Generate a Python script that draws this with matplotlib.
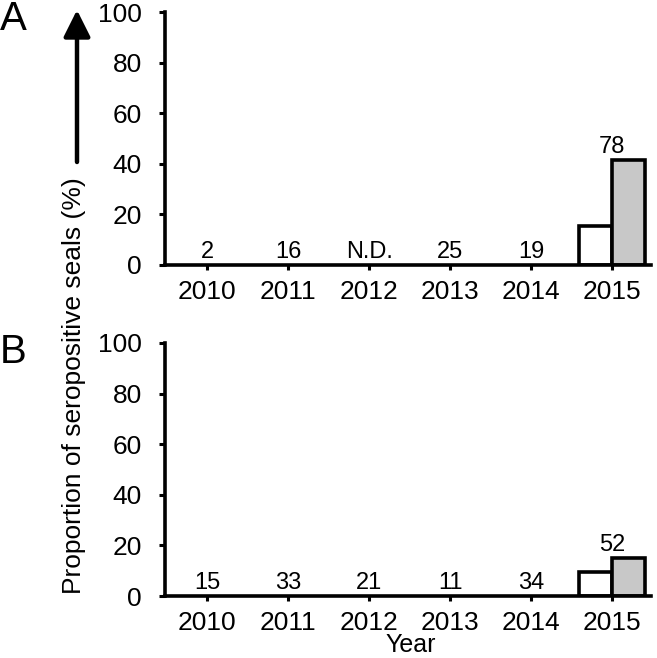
import numpy as np
import matplotlib
matplotlib.use("Agg")
import matplotlib.pyplot as plt

plt.rcParams["font.family"] = ["Liberation Sans", "DejaVu Sans"]

years = ["2010", "2011", "2012", "2013", "2014", "2015"]

# panel A
counts_a = ["2", "16", "N.D.", "25", "19", "78"]
white_a = [np.nan, np.nan, np.nan, np.nan, np.nan, 15.4]
grey_a = [np.nan, np.nan, np.nan, np.nan, np.nan, 41.5]

# panel B
counts_b = ["15", "33", "21", "11", "34", "52"]
white_b = [np.nan, np.nan, np.nan, np.nan, np.nan, 9.6]
grey_b = [np.nan, np.nan, np.nan, np.nan, np.nan, 15.0]

W, H = 657, 658
fig = plt.figure(figsize=(W / 100, H / 100), dpi=100)


def px_axes(left, right, top, bottom):
    return fig.add_axes([left / W, 1 - bottom / H, (right - left) / W, (bottom - top) / H])


def draw_panel(ax, white, grey, counts):
    x = np.arange(len(years))
    w = 0.41
    ax.bar(x - w / 2, white, width=w, color="white", edgecolor="black", linewidth=2.6)
    ax.bar(x + w / 2, grey, width=w, color="#c8c8c8", edgecolor="black", linewidth=2.6)
    for i, label in enumerate(counts):
        top = np.nanmax([white[i], grey[i], 0])
        y = top + 2.8 if top > 0 else 2.8
        ax.text(x[i], y, label, ha="center", va="baseline", fontsize=17)
    ax.set_xlim(-0.52, 5.48)
    ax.set_ylim(0, 100)
    ax.set_xticks(x)
    ax.set_xticklabels(years)
    ax.set_yticks(range(0, 101, 20))
    for side in ["top", "right"]:
        ax.spines[side].set_visible(False)
    for side in ["left", "bottom"]:
        ax.spines[side].set_linewidth(2.6)
    ax.tick_params(axis="both", direction="out", width=2.2, labelsize=19)
    ax.tick_params(axis="y", length=4.5, pad=12)
    ax.tick_params(axis="x", length=3.5, pad=7)


ax_a = px_axes(165, 651, 12, 265)
draw_panel(ax_a, white_a, grey_a, counts_a)

ax_b = px_axes(165, 651, 343, 596)
draw_panel(ax_b, white_b, grey_b, counts_b)

fig.text(0 / W, 1 - 0 / H, "A", fontsize=29, ha="left", va="top")
fig.text(0 / W, 1 - 333 / H, "B", fontsize=29, ha="left", va="top")

fig.text(74 / W, 1 - 386 / H, "Proportion of seropositive seals (%)", rotation=90,
         ha="center", va="center", fontsize=19)
fig.text(411 / W, 1 - 657 / H, "Year", ha="center", va="bottom", fontsize=18)

fig.add_artist(matplotlib.patches.FancyArrowPatch(
    (77 / W, 1 - 162 / H), (77 / W, 1 - 10 / H), transform=fig.transFigure,
    arrowstyle="-|>,head_length=0.9,head_width=0.45", mutation_scale=18,
    color="black", linewidth=3.2, shrinkA=0, shrinkB=0))

fig.savefig("out.png", dpi=100)
